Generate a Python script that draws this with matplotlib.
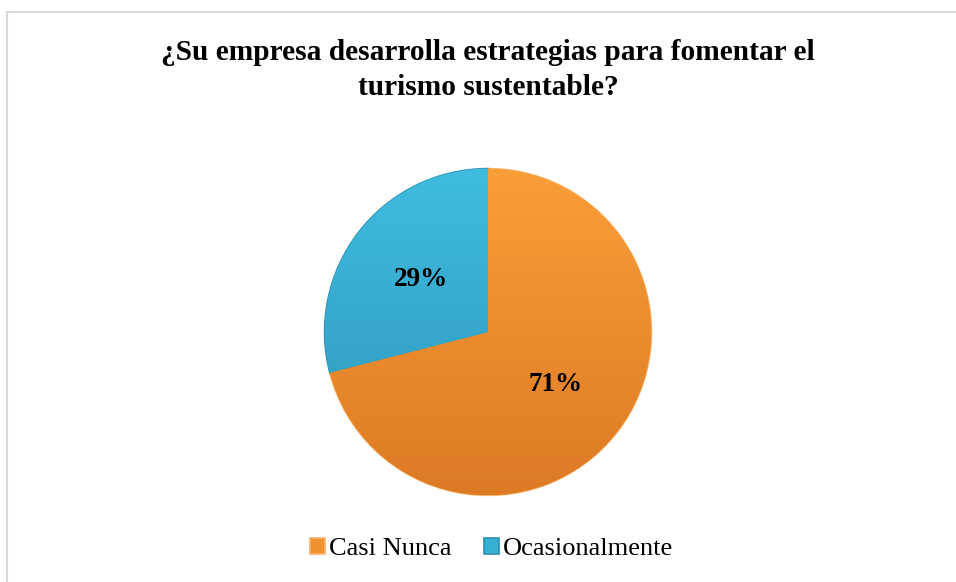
import numpy as np
import matplotlib.pyplot as plt
from matplotlib.colors import LinearSegmentedColormap
from matplotlib.patches import Rectangle

labels = ['Casi Nunca', 'Ocasionalmente']
values = [71, 29]
colors = ['#F0902E', '#37AED3']
# light (top) -> dark (bottom) shading of each slice
shades = [('#FA9E38', '#DD7A24'), ('#3FBCE0', '#2D95BA')]
title = '¿Su empresa desarrolla estrategias para fomentar el\nturismo sustentable?'


def main():
    plt.rcParams['font.family'] = ['Liberation Serif', 'DejaVu Serif']
    fig = plt.figure(figsize=(9.56, 5.82), dpi=100)

    # chart border (only left and top visible in the original crop)
    fig.patches.append(Rectangle((7 / 956, -0.1), 1.2, 0.1 + (582 - 12) / 582,
                                 transform=fig.transFigure, fill=False,
                                 edgecolor='#D9D9D9', linewidth=1.5))

    cx, cy, r = 488 / 956, 1 - 332 / 582, 165
    ax = fig.add_axes([cx - r / 956, cy - r / 582, 2 * r / 956, 2 * r / 582])
    wedges, texts, autotexts = ax.pie(
        values, colors=colors, startangle=90, counterclock=False,
        autopct='%d%%', pctdistance=0.52,
        wedgeprops=dict(edgecolor='#F7B46A', linewidth=1.2),
        textprops=dict(fontsize=19.5, fontweight='bold', color='black'))
    wedges[1].set_edgecolor('#2E8FB0')

    grad = np.linspace(0, 1, 256).reshape(-1, 1)
    for w, (c1, c2) in zip(wedges, shades):
        cmap = LinearSegmentedColormap.from_list('s', [c1, c2])
        im = ax.imshow(grad, cmap=cmap, extent=(-1, 1, -1, 1), origin='upper',
                       aspect='auto', zorder=w.get_zorder() + 0.1)
        im.set_clip_path(w)
    for t in autotexts:
        t.set_zorder(5)

    ax.set_xlim(-1.01, 1.01)
    ax.set_ylim(-1.01, 1.01)
    ax.set_aspect('equal')
    ax.axis('off')

    fig.text(488 / 956, 1 - 70 / 582, title, ha='center', va='center',
             fontsize=21.2, fontweight='bold', linespacing=1.4)

    fig.legend(wedges, labels, loc='center', bbox_to_anchor=(0.514, 1 - 549 / 582),
               ncol=2, frameon=False, fontsize=19, handlelength=0.55,
               handleheight=0.55, handletextpad=0.15, columnspacing=1.25)

    fig.savefig('out.png', dpi=100)


if __name__ == '__main__':
    main()
